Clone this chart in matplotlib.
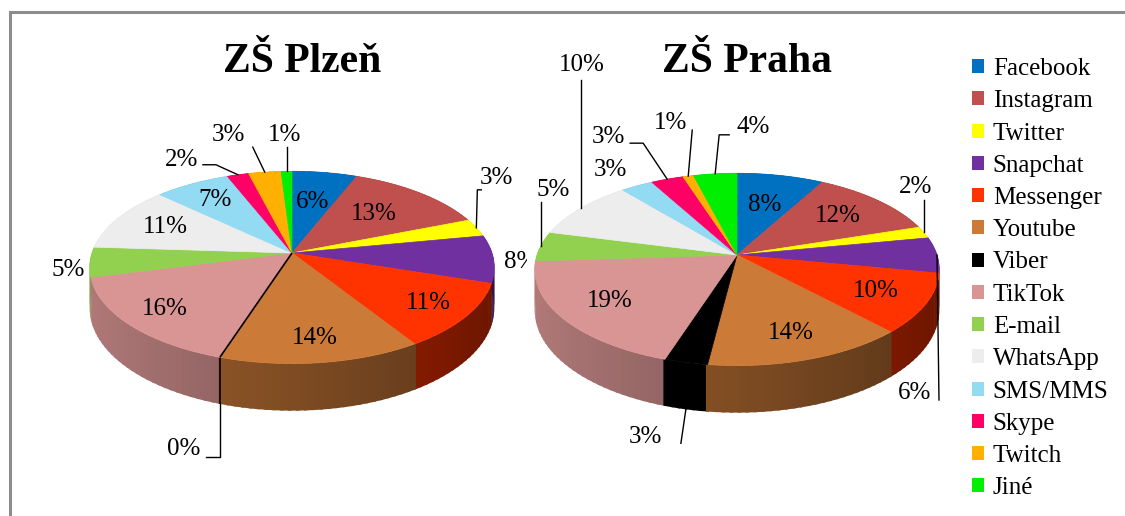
import matplotlib
matplotlib.use('Agg')
import matplotlib.pyplot as plt
import numpy as np
from matplotlib.patches import Polygon, Patch
from matplotlib.lines import Line2D
from matplotlib.colors import to_rgb

platforms = ['Facebook', 'Instagram', 'Twitter', 'Snapchat', 'Messenger', 'Youtube', 'Viber',
             'TikTok', 'E-mail', 'WhatsApp', 'SMS/MMS', 'Skype', 'Twitch', 'Jiné']
colors = ['#0070C0', '#C0504D', '#FFFF00', '#7030A0', '#FF3300', '#CC7A38', '#000000',
          '#D99594', '#92D050', '#EDEDED', '#93DAF3', '#FF0066', '#FFB000', '#00EE00']
plzen = [6, 13, 3, 8, 11, 14, 0, 16, 5, 11, 7, 2, 3, 1]
praha = [8, 12, 2, 6, 10, 14, 3, 19, 5, 10, 3, 3, 1, 4]

# pie geometry (pixels)
R, S, K, D = 200, 94, 0.15, 40
FONT = 'Liberation Serif'


def proj(cx, cy, theta, r=1.0, bottom=False):
    t = np.radians(theta)
    X = r * np.sin(t)
    Y = r * np.cos(t)
    den = 1 + K * Y
    x = cx + R * X / den
    y = cy - S * Y / den
    if bottom:
        y = y + D / den
    return x, y


def shade(color, theta):
    f = 0.62 - 0.2 * np.sin(np.radians(theta))
    return tuple(c * f for c in to_rgb(color))


# label layout: index -> r for inside labels, or (dx, dy, ha, leader, from_wall) outside
inside_plzen = {0: 0.6, 1: 0.62, 4: 0.8, 5: 0.8, 7: 0.8, 9: 0.72, 10: 0.75}
outside_plzen = {
    2: (20, -50, 'center', [(0, 0), (1, -38), (5, -38)], False),
    3: (10, 3, 'left', None, False),
    6: (-20, 45, 'right', [(0, 0), (0, 53), (-14, 53)], True),
    8: (-5, 8, 'right', None, False),
    11: (-40, -15, 'right', [(0, 0), (-22, -10), (-35, -10)], False),
    12: (-36, -37, 'center', [(0, 0), (-12, -25)], False),
    13: (-2, -36, 'center', [(0, 0), (0, -24)], False),
}
inside_praha = {0: 0.6, 1: 0.7, 4: 0.75, 5: 0.78, 7: 0.75}
outside_praha = {
    2: (-8, -45, 'center', [(0, 0), (0, -32)], False),
    3: (-22, 138, 'center', [(0, 0), (2, 145)], False),
    6: (-24, 28, 'right', [(0, 0), (-5, 34)], True),
    8: (13, -56, 'center', [(0, 0), (0, -44)], False),
    9: (1, -143, 'center', [(0, 0), (0, -128)], False),
    10: (-27, -16, 'center', None, False),
    11: (-59, -42, 'center', [(0, 0), (-24, -36), (-37, -36)], False),
    12: (-18, -53, 'center', [(0, 0), (4, -46)], False),
    13: (38, -47, 'center', [(0, 0), (4, -39), (14, -39)], False),
}


def draw_pie(ax, values, cx, cy, title, inside, outside):
    vals = np.array(values, dtype=float)
    bounds = np.concatenate([[0], np.cumsum(vals)]) / vals.sum() * 360

    # side walls, painted back to front; segments overlap a little to hide seams
    segs = []
    for i, c in enumerate(colors):
        a0, a1 = bounds[i], bounds[i + 1]
        zero = a1 == a0
        n = max(1, int(np.ceil((a1 - a0) / 2)))
        edges = np.linspace(a0, a1, n + 1)
        for t0, t1 in zip(edges[:-1], edges[1:]):
            pad = 0 if zero else 0.4
            tt = np.linspace(t0 - pad, t1 + pad, 4)
            top = [proj(cx, cy, t) for t in tt]
            bot = [proj(cx, cy, t, bottom=True) for t in tt[::-1]]
            mid = (t0 + t1) / 2
            segs.append((np.cos(np.radians(mid)), top + bot, shade(c, mid), zero))
    segs.sort(key=lambda s: -s[0])
    for k, (_, pts, col, zero) in enumerate(segs):
        ax.add_patch(Polygon(pts, closed=True, facecolor=col,
                             edgecolor=col if zero else 'none', lw=1.2,
                             zorder=2 + k * 1e-4 + (0.5 if zero else 0)))

    # top faces
    for i, c in enumerate(colors):
        a0, a1 = bounds[i], bounds[i + 1]
        tt = np.linspace(a0, a1, max(2, int(a1 - a0) + 2))
        pts = [(cx, cy)] + [proj(cx, cy, t) for t in tt]
        zero = a1 == a0
        ax.add_patch(Polygon(pts, closed=True, facecolor=c, edgecolor=c,
                             lw=1.2 if zero else 0.5, zorder=4 if zero else 3))

    # percentage labels
    for i, v in enumerate(values):
        mid = (bounds[i] + bounds[i + 1]) / 2
        txt = f'{v}%'
        if i in inside:
            x, y = proj(cx, cy, mid, r=inside[i])
            ax.text(x, y, txt, ha='center', va='center', fontsize=18,
                    family=FONT, zorder=6, clip_on=True)
        elif i in outside:
            dx, dy, ha, leader, wall = outside[i]
            x, y = proj(cx, cy, mid, bottom=wall)
            if leader:
                lx = [x + p[0] for p in leader]
                ly = [y + p[1] for p in leader]
                ax.add_line(Line2D(lx, ly, color='black', lw=1.0, zorder=5))
            ax.text(x + dx, y + dy, txt, ha=ha, va='center', fontsize=18,
                    family=FONT, zorder=6, clip_on=True)

    ax.text(cx + 10, 62, title, ha='center', va='center', fontsize=30,
            fontweight='bold', family=FONT, zorder=6)


fig = plt.figure(figsize=(11.25, 5.16), dpi=100)
fig.patch.set_facecolor('white')

W, H = 1125, 516
split = 527
ax1 = fig.add_axes([0, 0, split / W, 1])
ax1.set_xlim(0, split)
ax1.set_ylim(H, 0)
ax1.axis('off')

ax2 = fig.add_axes([split / W, 0, (955 - split) / W, 1])
ax2.set_xlim(split, 955)
ax2.set_ylim(H, 0)
ax2.axis('off')

draw_pie(ax1, plzen, 292, 253, 'ZŠ Plzeň', inside_plzen, outside_plzen)
draw_pie(ax2, praha, 737, 255, 'ZŠ Praha', inside_praha, outside_praha)

handles = [Patch(facecolor=c, edgecolor='none', label=p) for p, c in zip(platforms, colors)]
fig.legend(handles=handles, loc='upper left', bbox_to_anchor=(972 / W, 1 - 58 / H),
           frameon=False, prop={'family': FONT, 'size': 18},
           handlelength=0.48, handleheight=0.48, handletextpad=0.35,
           labelspacing=0.41, borderaxespad=0, borderpad=0)

# outer frame
fig.add_artist(Line2D([10 / W, 1], [1 - 12 / H, 1 - 12 / H], transform=fig.transFigure,
                      color='#8C8C8C', lw=2.2))
fig.add_artist(Line2D([10 / W, 10 / W], [0, 1 - 12 / H], transform=fig.transFigure,
                      color='#8C8C8C', lw=2.2))

fig.savefig('out.png', dpi=100, facecolor='white')
